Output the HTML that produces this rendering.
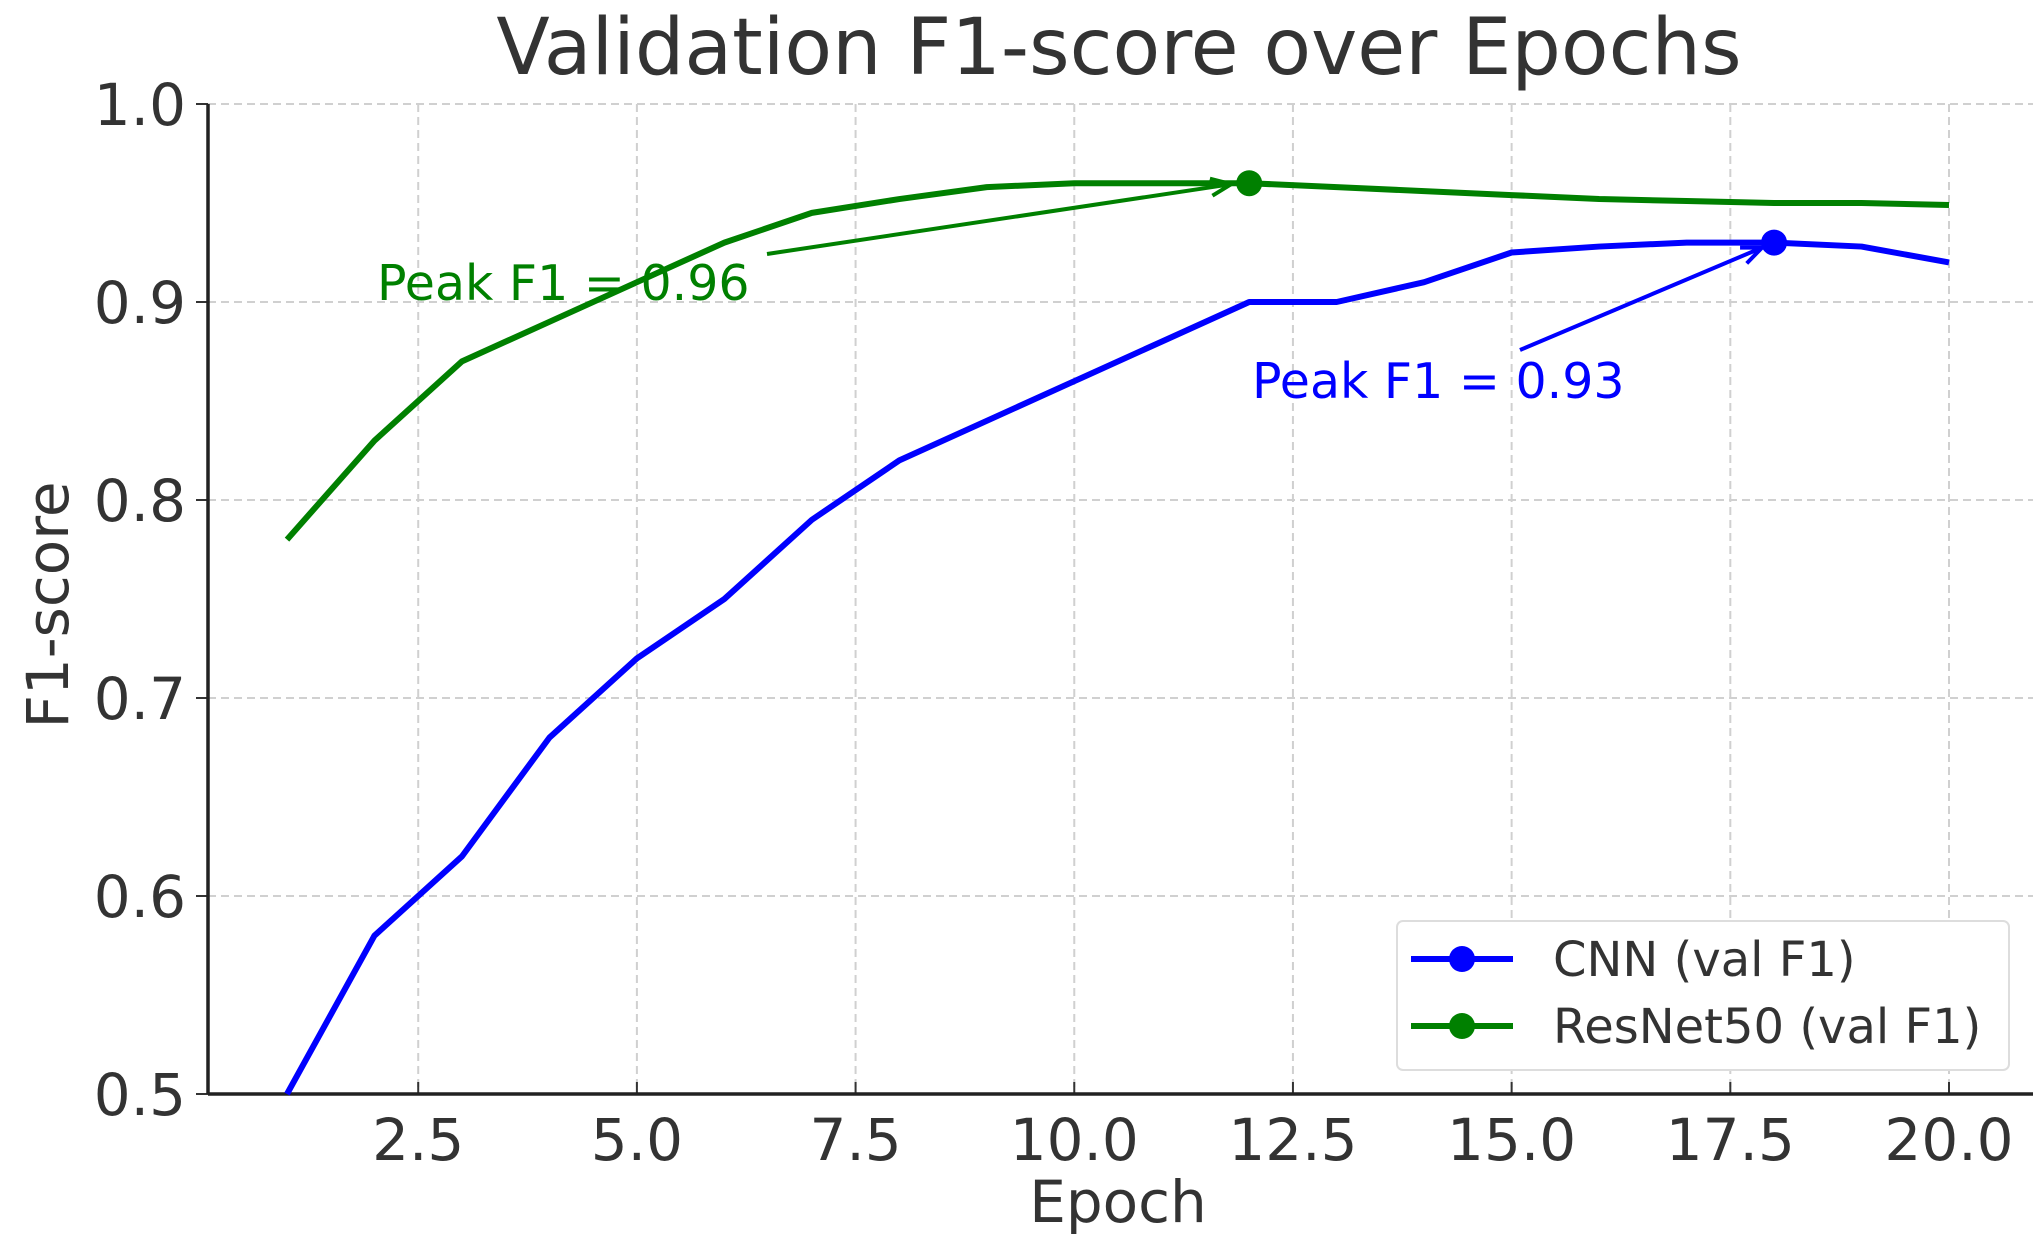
<!DOCTYPE html>
<html><head><meta charset="utf-8"><style>
html,body{margin:0;padding:0;background:#fff;}
svg{display:block;font-family:"DejaVu Sans","Liberation Sans",sans-serif;}
</style></head><body>
<svg id="chart" width="2042" height="1239" viewBox="0 0 2042 1239">
<g id="grid"></g>
<g id="axes"></g>
<g id="series"></g>
<g id="annot"></g>
<text x="1119" y="74" font-size="78" fill="#333" text-anchor="middle">Validation F1-score over Epochs</text>
<text x="1118" y="1222" font-size="58" fill="#333" text-anchor="middle">Epoch</text>
<text x="0" y="0" font-size="58" fill="#333" text-anchor="middle" transform="translate(68,605) rotate(-90)">F1-score</text>
<g>
<rect x="1397" y="921" width="612" height="149" rx="6" fill="#fff" stroke="#ddd" stroke-width="2"/>
<g>
<line x1="1411" y1="959" x2="1513" y2="959" stroke="#0000ff" stroke-width="6"/>
<circle cx="1462" cy="959" r="13" fill="#0000ff"/>
<text x="1553" y="976" font-size="48" fill="#333">CNN (val F1)</text></g>
<g>
<line x1="1411" y1="1026" x2="1513" y2="1026" stroke="#008000" stroke-width="6"/>
<circle cx="1462" cy="1026" r="13" fill="#008000"/>
<text x="1553" y="1043" font-size="48" fill="#333">ResNet50 (val F1)</text></g>
</g>
</svg>
<script>
const epochs=[1,2,3,4,5,6,7,8,9,10,11,12,13,14,15,16,17,18,19,20];
const cnnF1=[0.50,0.58,0.62,0.68,0.72,0.75,0.79,0.82,0.84,0.86,0.88,0.90,0.90,0.91,0.925,0.928,0.93,0.93,0.928,0.92];
const resnetF1=[0.78,0.83,0.87,0.89,0.91,0.93,0.945,0.952,0.958,0.96,0.96,0.96,0.958,0.956,0.954,0.952,0.951,0.95,0.95,0.949];
const xTicks=[2.5,5.0,7.5,10.0,12.5,15.0,17.5,20.0];
const yTicks=[0.5,0.6,0.7,0.8,0.9,1.0];
const cnnPeakEpoch=18, cnnPeak=0.93, resPeakEpoch=12, resPeak=0.96;

const NS="http://www.w3.org/2000/svg";
const X0=208,X1=2033,Y0=1094,Y1=104;
function sx(v){return 287+(v-1)*(1949-287)/19;}
function sy(v){return Y0-(v-0.5)*(Y0-Y1)/0.5;}
function mk(tag,attrs,parent){const e=document.createElementNS(NS,tag);for(const k in attrs)e.setAttribute(k,attrs[k]);parent.appendChild(e);return e;}
const grid=document.getElementById('grid'),axes=document.getElementById('axes'),series=document.getElementById('series'),annot=document.getElementById('annot');

xTicks.forEach(t=>{
 const g=mk('line',{x1:sx(t),x2:sx(t),y1:Y1,y2:Y0,stroke:'#d0d0d0','stroke-width':2,'stroke-dasharray':'8,5'},grid);
 
 
 mk('line',{x1:sx(t),x2:sx(t),y1:Y0,y2:Y0-12,stroke:'#333','stroke-width':2},axes);
 const l=mk('text',{x:sx(t),y:Y0+66,'font-size':58,fill:'#333','text-anchor':'middle'},axes);
 l.textContent=t.toFixed(1);
 
 
});
yTicks.forEach(t=>{
 const g=mk('line',{x1:X0,x2:X1,y1:sy(t),y2:sy(t),stroke:'#d0d0d0','stroke-width':2,'stroke-dasharray':'8,5'},grid);
 
 
 mk('line',{x1:X0-12,x2:X0,y1:sy(t),y2:sy(t),stroke:'#333','stroke-width':2},axes);
 const l=mk('text',{x:X0-22,y:sy(t)+21,'font-size':58,fill:'#333','text-anchor':'end'},axes);
 l.textContent=t.toFixed(1);
 
 
});
const ya=mk('line',{x1:X0,x2:X0,y1:Y1,y2:Y0,stroke:'#222','stroke-width':3.5},axes);


const xa=mk('line',{x1:X0,x2:X1,y1:Y0,y2:Y0,stroke:'#222','stroke-width':3.5},axes);



function line(vals,color,name){
 const p=mk('polyline',{points:epochs.map((e,i)=>sx(e)+','+sy(vals[i])).join(' '),fill:'none',stroke:color,'stroke-width':6,'stroke-linejoin':'round'},series);
 
 
}
line(cnnF1,'#0000ff','cnn-line');
line(resnetF1,'#008000','resnet50-line');

function arrow(x1,y1,x2,y2,color){
 mk('line',{x1,y1,x2,y2,stroke:color,'stroke-width':4},annot);
 const a=Math.atan2(y2-y1,x2-x1),L=22;
 const pts=[[x2-L*Math.cos(a-0.4),y2-L*Math.sin(a-0.4)],[x2,y2],[x2-L*Math.cos(a+0.4),y2-L*Math.sin(a+0.4)]];
 mk('polyline',{points:pts.map(p=>p.join(',')).join(' '),fill:'none',stroke:color,'stroke-width':4},annot);
}
arrow(767,254,sx(resPeakEpoch)-18,sy(resPeak)+1,'#008000');
arrow(1520,350,sx(cnnPeakEpoch)-12,sy(cnnPeak)+5,'#0000ff');
const m1=mk('circle',{cx:sx(resPeakEpoch),cy:sy(resPeak),r:13,fill:'#008000'},annot);


const m2=mk('circle',{cx:sx(cnnPeakEpoch),cy:sy(cnnPeak),r:13,fill:'#0000ff'},annot);


const t1=mk('text',{x:377,y:300,'font-size':49,fill:'#008000'},annot);
t1.textContent='Peak F1 = '+resPeak.toFixed(2);


const t2=mk('text',{x:1252,y:398,'font-size':49,fill:'#0000ff'},annot);
t2.textContent='Peak F1 = '+cnnPeak.toFixed(2);


</script>
</body></html>
